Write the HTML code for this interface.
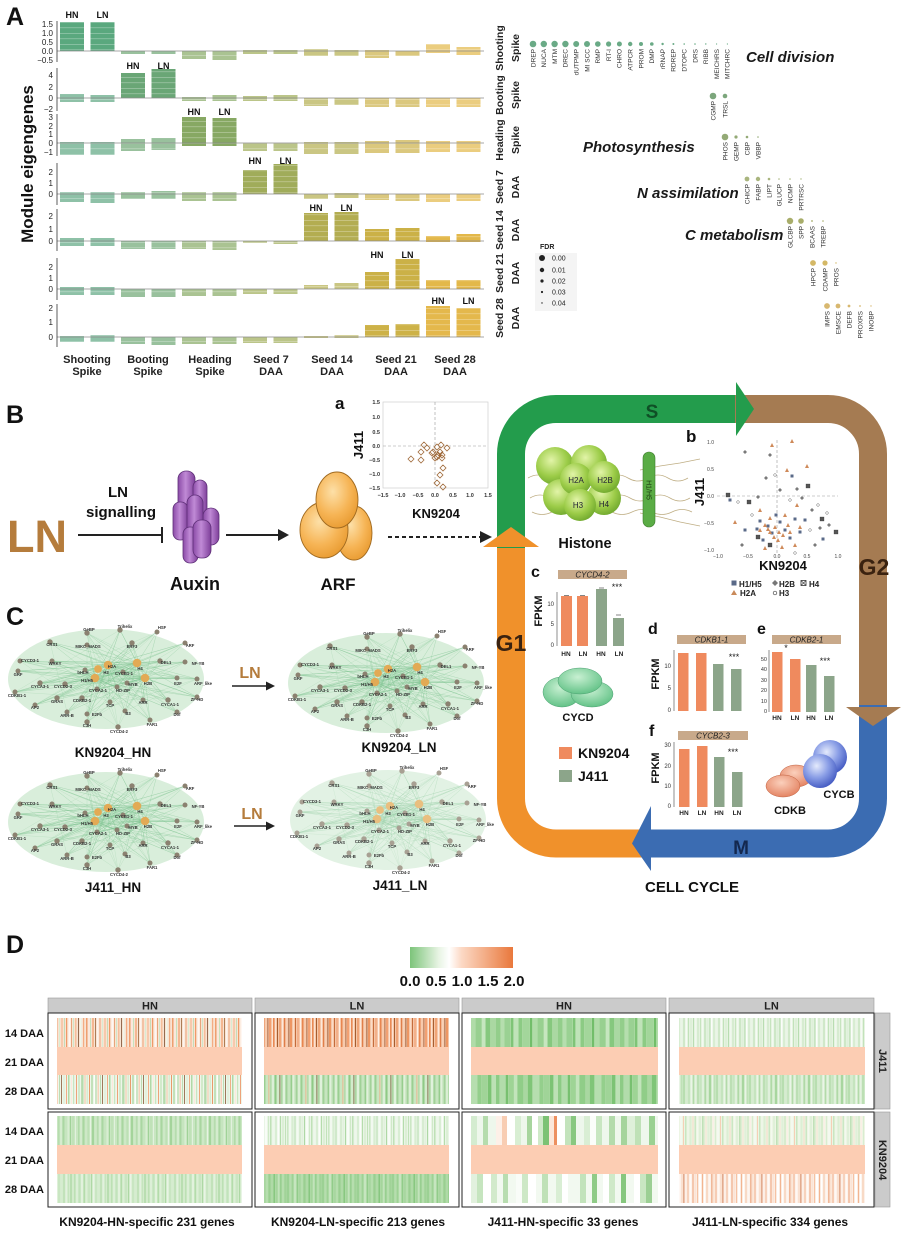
<!DOCTYPE html>
<html><head><meta charset="utf-8">
<style>
html,body{margin:0;padding:0;background:#fff;}
svg{display:block;}
text{font-family:"Liberation Sans",Arial,sans-serif;}
</style></head><body>
<svg width="901" height="1242" viewBox="0 0 901 1242" xmlns="http://www.w3.org/2000/svg">
<defs>
<pattern id="wl" width="10" height="5.5" patternUnits="userSpaceOnUse"><rect y="0" width="10" height="0.6" fill="#fff" opacity="0.45"/></pattern>
<linearGradient id="cyl" x1="0" x2="1" y1="0" y2="0"><stop offset="0" stop-color="#8a4aa6"/><stop offset="0.45" stop-color="#c08ad6"/><stop offset="1" stop-color="#7e3f9a"/></linearGradient>
<radialGradient id="arf" cx="0.4" cy="0.35" r="0.7"><stop offset="0" stop-color="#fde0a8"/><stop offset="0.6" stop-color="#f6b455"/><stop offset="1" stop-color="#e89a30"/></radialGradient>
<radialGradient id="his" cx="0.4" cy="0.35" r="0.7"><stop offset="0" stop-color="#e2f4a8"/><stop offset="0.6" stop-color="#9ccc48"/><stop offset="1" stop-color="#6da62c"/></radialGradient>
<radialGradient id="cycd" cx="0.45" cy="0.35" r="0.7"><stop offset="0" stop-color="#c8f0d2"/><stop offset="1" stop-color="#5cbf82"/></radialGradient>
<radialGradient id="cdkb" cx="0.45" cy="0.35" r="0.7"><stop offset="0" stop-color="#fbd0bc"/><stop offset="1" stop-color="#e27e5c"/></radialGradient>
<radialGradient id="cycb" cx="0.4" cy="0.35" r="0.7"><stop offset="0" stop-color="#e4eafc"/><stop offset="0.5" stop-color="#8a9ee6"/><stop offset="1" stop-color="#3f56c0"/></radialGradient>
<linearGradient id="leg" x1="0" x2="1" y1="0" y2="0"><stop offset="0" stop-color="#7cc47a"/><stop offset="0.28" stop-color="#e8f4e4"/><stop offset="0.38" stop-color="#ffffff"/><stop offset="0.5" stop-color="#fcd9c5"/><stop offset="1" stop-color="#e9783c"/></linearGradient>

<g id="net">
<ellipse cx="106" cy="679" rx="98" ry="50" fill="#d9eedb"/>
<g fill="none" stroke="#7cc290" stroke-width="0.3" stroke-opacity="0.45">
<path d="M108 665L120 630 108 665 157 632 108 665 87 633 108 665 50 642 108 665 87 645 108 665 132 643 108 665 185 643 108 665 20 661 108 665 52 661 108 665 160 661 108 665 185 662 108 665 85 670 108 665 123 672 108 665 18 671 108 665 127 683 108 665 177 678 108 665 197 679 108 665 40 683 108 665 65 684 108 665 15 692 108 665 97 689 108 665 117 687 108 665 82 698 108 665 143 700 108 665 168 700 108 665 197 697 108 665 35 705 108 665 57 698 108 665 110 702 108 665 125 711 108 665 177 712 108 665 67 712 108 665 87 714 108 665 87 722 108 665 150 720 108 665 118 727"/>
<path d="M137 663L120 630 137 663 157 632 137 663 87 633 137 663 50 642 137 663 87 645 137 663 132 643 137 663 185 643 137 663 20 661 137 663 52 661 137 663 160 661 137 663 185 662 137 663 85 670 137 663 123 672 137 663 18 671 137 663 127 683 137 663 177 678 137 663 197 679 137 663 40 683 137 663 65 684 137 663 15 692 137 663 97 689 137 663 117 687 137 663 82 698 137 663 143 700 137 663 168 700 137 663 197 697 137 663 35 705 137 663 57 698 137 663 110 702 137 663 125 711 137 663 177 712 137 663 67 712 137 663 87 714 137 663 87 722 137 663 150 720 137 663 118 727"/>
<path d="M95 678L120 630 95 678 157 632 95 678 87 633 95 678 50 642 95 678 87 645 95 678 132 643 95 678 185 643 95 678 20 661 95 678 52 661 95 678 160 661 95 678 185 662 95 678 85 670 95 678 123 672 95 678 18 671 95 678 127 683 95 678 177 678 95 678 197 679 95 678 40 683 95 678 65 684 95 678 15 692 95 678 97 689 95 678 117 687 95 678 82 698 95 678 143 700 95 678 168 700 95 678 197 697 95 678 35 705 95 678 57 698 95 678 110 702 95 678 125 711 95 678 177 712 95 678 67 712 95 678 87 714 95 678 87 722 95 678 150 720 95 678 118 727"/>
<path d="M145 678L120 630 145 678 157 632 145 678 87 633 145 678 50 642 145 678 87 645 145 678 132 643 145 678 185 643 145 678 20 661 145 678 52 661 145 678 160 661 145 678 185 662 145 678 85 670 145 678 123 672 145 678 18 671 145 678 127 683 145 678 177 678 145 678 197 679 145 678 40 683 145 678 65 684 145 678 15 692 145 678 97 689 145 678 117 687 145 678 82 698 145 678 143 700 145 678 168 700 145 678 197 697 145 678 35 705 145 678 57 698 145 678 110 702 145 678 125 711 145 678 177 712 145 678 67 712 145 678 87 714 145 678 87 722 145 678 150 720 145 678 118 727"/>
<path d="M120 630L15 692 185 643 67 712 50 642 197 697 18 671 177 678 87 633 118 727 20 661 168 700 87 645 87 722 185 662 40 683 157 632 35 705 123 672 177 712 52 661 97 689 132 643 87 714 197 679 125 711 160 661 57 698 127 683 150 720 85 670 110 702 65 684 143 700 15 692 M20 661L197 679M18 671L197 697M15 692L185 662M50 642L177 712M87 633L125 711M157 632L67 712M185 643L35 705M120 630L87 722M132 643L87 714M40 683L168 700M52 661L150 720M65 684L160 661"/>
</g>
<g fill="#8b8170">
<circle cx="120" cy="630" r="2.7"/><circle cx="157" cy="632" r="2.5"/><circle cx="87" cy="633" r="2.7"/><circle cx="50" cy="642" r="2.7"/><circle cx="87" cy="645" r="2.5"/><circle cx="132" cy="643" r="2.7"/><circle cx="185" cy="643" r="2.5"/><circle cx="20" cy="661" r="2.5"/><circle cx="52" cy="661" r="2.5"/><circle cx="160" cy="661" r="2.7"/><circle cx="185" cy="662" r="2.5"/><circle cx="85" cy="670" r="2.5"/><circle cx="123" cy="672" r="2.5"/><circle cx="18" cy="671" r="2.5"/><circle cx="127" cy="683" r="2.5"/><circle cx="177" cy="678" r="2.5"/><circle cx="197" cy="679" r="2.5"/><circle cx="40" cy="683" r="2.7"/><circle cx="65" cy="684" r="2.7"/><circle cx="15" cy="692" r="2.5"/><circle cx="97" cy="689" r="2.5"/><circle cx="117" cy="687" r="2.5"/><circle cx="82" cy="698" r="2.7"/><circle cx="143" cy="700" r="2.5"/><circle cx="168" cy="700" r="2.7"/><circle cx="197" cy="697" r="2.5"/><circle cx="35" cy="705" r="2.5"/><circle cx="57" cy="698" r="2.7"/><circle cx="110" cy="702" r="2.5"/><circle cx="125" cy="711" r="2.5"/><circle cx="177" cy="712" r="2.5"/><circle cx="67" cy="712" r="2.5"/><circle cx="87" cy="714" r="2.5"/><circle cx="87" cy="722" r="2.7"/><circle cx="150" cy="720" r="2.5"/><circle cx="118" cy="727" r="2.7"/>
</g>
<g fill="#e2aa55"><circle cx="108" cy="665" r="4.3"/><circle cx="137" cy="663" r="4.3"/><circle cx="98" cy="669" r="3.9"/><circle cx="95" cy="678" r="4.3"/><circle cx="145" cy="678" r="4.3"/></g>
</g>

<pattern id="p1a" width="43" height="1242" patternUnits="userSpaceOnUse"><rect width="43" height="1242" fill="#f8e3d3"/><g><rect x="0" width="1.5" height="1242" fill="#ee9f70"/><rect x="2.5" width="1" height="1242" fill="#fbeee5"/><rect x="4" width="1" height="1242" fill="#c6e2bd"/><rect x="6" width="2" height="1242" fill="#f4b791"/><rect x="9" width="0.8" height="1242" fill="#9a6438"/><rect x="11" width="1.5" height="1242" fill="#fdf4ee"/><rect x="13.5" width="1" height="1242" fill="#eea274"/><rect x="16" width="1" height="1242" fill="#d9ecd2"/><rect x="18" width="2" height="1242" fill="#f7c9ab"/><rect x="21" width="0.8" height="1242" fill="#b9dbb0"/><rect x="23" width="1.2" height="1242" fill="#f09a67"/><rect x="25.5" width="2" height="1242" fill="#fff7f2"/><rect x="28" width="1" height="1242" fill="#e7a57a"/><rect x="30" width="1" height="1242" fill="#cfe6c7"/><rect x="32" width="1.5" height="1242" fill="#f6be9a"/><rect x="35" width="0.8" height="1242" fill="#7c4f30"/><rect x="37" width="1.5" height="1242" fill="#eef6ea"/><rect x="40" width="1.2" height="1242" fill="#f3ad83"/></g></pattern>
<pattern id="p1c" width="41" height="1242" patternUnits="userSpaceOnUse"><rect width="41" height="1242" fill="#eef6ea"/><rect x="0" width="1.5" height="1242" fill="#b5dbac"/><rect x="2.5" width="1" height="1242" fill="#f5c4a5"/><rect x="4.5" width="1.5" height="1242" fill="#d7ecd0"/><rect x="7" width="1" height="1242" fill="#e99a6b"/><rect x="9" width="2" height="1242" fill="#c2e1ba"/><rect x="12" width="0.8" height="1242" fill="#fff"/><rect x="13.5" width="1" height="1242" fill="#a9d4a0"/><rect x="15.5" width="1.5" height="1242" fill="#f7d2bb"/><rect x="18" width="1" height="1242" fill="#bcdcb3"/><rect x="20" width="0.8" height="1242" fill="#8a5a36"/><rect x="22" width="2" height="1242" fill="#e3f1de"/><rect x="25" width="1" height="1242" fill="#f1ad85"/><rect x="27" width="1.5" height="1242" fill="#b0d9a7"/><rect x="30" width="1" height="1242" fill="#fde9dc"/><rect x="32" width="1.2" height="1242" fill="#c9e5c1"/><rect x="35" width="1" height="1242" fill="#eda37a"/><rect x="37" width="2" height="1242" fill="#d2eacb"/><rect x="40" width="0.6" height="1242" fill="#9ccf94"/></pattern>
<pattern id="p2a" width="39" height="1242" patternUnits="userSpaceOnUse"><rect width="39" height="1242" fill="#f5c7a9"/><rect x="0" width="1.5" height="1242" fill="#e98a55"/><rect x="2" width="1" height="1242" fill="#fbe2d2"/><rect x="4" width="1" height="1242" fill="#a55d30"/><rect x="6" width="2" height="1242" fill="#f0a477"/><rect x="9" width="1" height="1242" fill="#fde8dc"/><rect x="11" width="1.2" height="1242" fill="#e07e4a"/><rect x="13" width="1.5" height="1242" fill="#f8d1b8"/><rect x="15.5" width="0.8" height="1242" fill="#8a4a28"/><rect x="17" width="2" height="1242" fill="#ee9663"/><rect x="20" width="1" height="1242" fill="#fbdcc8"/><rect x="22" width="1" height="1242" fill="#c46c3c"/><rect x="24" width="2" height="1242" fill="#f3b08a"/><rect x="27" width="1" height="1242" fill="#fff0e6"/><rect x="29" width="1.5" height="1242" fill="#e8854f"/><rect x="31.5" width="1" height="1242" fill="#f9cdb1"/><rect x="33.5" width="0.8" height="1242" fill="#9a5530"/><rect x="35" width="2" height="1242" fill="#f2a072"/><rect x="38" width="1" height="1242" fill="#fce4d4"/></pattern>
<pattern id="p2c" width="37" height="1242" patternUnits="userSpaceOnUse"><rect width="37" height="1242" fill="#cde8c6"/><rect x="0" width="1.5" height="1242" fill="#a3d29a"/><rect x="2.5" width="1" height="1242" fill="#e6f3e2"/><rect x="4.5" width="2" height="1242" fill="#9bcf92"/><rect x="7.5" width="1" height="1242" fill="#c5e4bd"/><rect x="9.5" width="0.8" height="1242" fill="#f0a980"/><rect x="11" width="1.5" height="1242" fill="#b4dbab"/><rect x="13.5" width="1" height="1242" fill="#ecf6e9"/><rect x="15.5" width="2" height="1242" fill="#8fca86"/><rect x="18.5" width="1" height="1242" fill="#d9eed3"/><rect x="20.5" width="0.8" height="1242" fill="#7a5a3a"/><rect x="22" width="1.5" height="1242" fill="#aad6a1"/><rect x="24.5" width="1" height="1242" fill="#f4fbf2"/><rect x="26.5" width="2" height="1242" fill="#a0d197"/><rect x="29.5" width="1" height="1242" fill="#c0e2b8"/><rect x="31.5" width="1.5" height="1242" fill="#97cd8e"/><rect x="34" width="1" height="1242" fill="#e0f0db"/><rect x="36" width="0.8" height="1242" fill="#b9ddb1"/></pattern>
<pattern id="p3a" width="62" height="1242" patternUnits="userSpaceOnUse"><rect width="62" height="1242" fill="#a8d8a0"/><rect x="0" width="4" height="1242" fill="#93ce8b"/><rect x="5" width="3" height="1242" fill="#b5deae"/><rect x="9" width="5" height="1242" fill="#9ad193"/><rect x="15" width="2" height="1242" fill="#7fc477"/><rect x="18" width="4" height="1242" fill="#c0e3b9"/><rect x="23" width="3" height="1242" fill="#8ccb84"/><rect x="27" width="6" height="1242" fill="#a3d69b"/><rect x="34" width="2" height="1242" fill="#72be6a"/><rect x="37" width="4" height="1242" fill="#b0dca8"/><rect x="42" width="5" height="1242" fill="#98d090"/><rect x="48" width="3" height="1242" fill="#c6e6bf"/><rect x="52" width="4" height="1242" fill="#86c87e"/><rect x="57" width="5" height="1242" fill="#aad8a2"/></pattern>
<pattern id="p3c" width="62" height="1242" patternUnits="userSpaceOnUse"><rect width="62" height="1242" fill="#a5d69d"/><rect x="0" width="3" height="1242" fill="#8dcb85"/><rect x="4" width="5" height="1242" fill="#b2dcab"/><rect x="10" width="2" height="1242" fill="#78c070"/><rect x="13" width="4" height="1242" fill="#9ed495"/><rect x="18" width="3" height="1242" fill="#c2e4bb"/><rect x="22" width="5" height="1242" fill="#90cd88"/><rect x="28" width="3" height="1242" fill="#a9d7a1"/><rect x="32" width="4" height="1242" fill="#80c578"/><rect x="37" width="6" height="1242" fill="#b6deaf"/><rect x="44" width="3" height="1242" fill="#94cf8c"/><rect x="48" width="5" height="1242" fill="#a0d498"/><rect x="54" width="3" height="1242" fill="#7cc374"/><rect x="58" width="4" height="1242" fill="#bce1b5"/></pattern>
<pattern id="p4a" width="35" height="1242" patternUnits="userSpaceOnUse"><rect width="35" height="1242" fill="#e6f3e1"/><rect x="0" width="1" height="1242" fill="#c6e4be"/><rect x="2" width="1.5" height="1242" fill="#f3faf1"/><rect x="4.5" width="1" height="1242" fill="#b4dbab"/><rect x="6.5" width="2" height="1242" fill="#dff0da"/><rect x="9.5" width="0.8" height="1242" fill="#a8d6a0"/><rect x="11" width="1.5" height="1242" fill="#fbfdfa"/><rect x="13.5" width="1" height="1242" fill="#cbe7c4"/><rect x="15.5" width="2" height="1242" fill="#eaf5e7"/><rect x="18.5" width="1" height="1242" fill="#b9ddb1"/><rect x="20.5" width="1.5" height="1242" fill="#f6fbf5"/><rect x="23" width="1" height="1242" fill="#c2e2ba"/><rect x="25" width="2" height="1242" fill="#def0d9"/><rect x="28" width="0.8" height="1242" fill="#aed8a6"/><rect x="30" width="1.5" height="1242" fill="#f0f8ee"/><rect x="32.5" width="1" height="1242" fill="#c8e6c1"/></pattern>
<pattern id="p4c" width="33" height="1242" patternUnits="userSpaceOnUse"><rect width="33" height="1242" fill="#d2eacb"/><rect x="0" width="1" height="1242" fill="#b3daaa"/><rect x="2" width="1.5" height="1242" fill="#e4f2e0"/><rect x="4.5" width="1" height="1242" fill="#a5d49c"/><rect x="6.5" width="2" height="1242" fill="#c7e5c0"/><rect x="9.5" width="1" height="1242" fill="#eef7ec"/><rect x="11.5" width="1.5" height="1242" fill="#b0d9a7"/><rect x="14" width="1" height="1242" fill="#dcefd6"/><rect x="16" width="2" height="1242" fill="#a8d69f"/><rect x="19" width="1" height="1242" fill="#e8f4e5"/><rect x="21" width="1.5" height="1242" fill="#bfe1b7"/><rect x="23.5" width="1" height="1242" fill="#9fd196"/><rect x="25.5" width="2" height="1242" fill="#d6ecd0"/><rect x="28.5" width="1" height="1242" fill="#b8ddb0"/><rect x="30.5" width="1.5" height="1242" fill="#eaf5e7"/></pattern>
<pattern id="p1d" width="39" height="1242" patternUnits="userSpaceOnUse"><rect width="39" height="1242" fill="#c8e6c1"/><rect x="0" width="1.5" height="1242" fill="#b0daa8"/><rect x="2.5" width="1" height="1242" fill="#dcefd6"/><rect x="4.5" width="2" height="1242" fill="#a9d6a0"/><rect x="7.5" width="1" height="1242" fill="#d2eacb"/><rect x="9.5" width="1.5" height="1242" fill="#bde0b5"/><rect x="12" width="1" height="1242" fill="#e6f3e2"/><rect x="14" width="2" height="1242" fill="#a4d49b"/><rect x="17" width="1" height="1242" fill="#cde8c6"/><rect x="19" width="1.5" height="1242" fill="#b6dcae"/><rect x="21.5" width="1" height="1242" fill="#e0f1dc"/><rect x="23.5" width="2" height="1242" fill="#aad7a2"/><rect x="26.5" width="1" height="1242" fill="#c4e4bd"/><rect x="28.5" width="1.5" height="1242" fill="#d8edd2"/><rect x="31" width="1" height="1242" fill="#a0d298"/><rect x="33" width="2" height="1242" fill="#c0e2b8"/><rect x="36" width="1" height="1242" fill="#e2f1de"/></pattern>
<pattern id="p1f" width="37" height="1242" patternUnits="userSpaceOnUse"><rect width="37" height="1242" fill="#d3ebcc"/><rect x="0" width="1.5" height="1242" fill="#bce0b4"/><rect x="2.5" width="1" height="1242" fill="#e6f3e2"/><rect x="4.5" width="2" height="1242" fill="#c2e3bb"/><rect x="7.5" width="1" height="1242" fill="#f0f8ee"/><rect x="9.5" width="1.5" height="1242" fill="#b4dcab"/><rect x="12" width="1" height="1242" fill="#dcefd6"/><rect x="14" width="2" height="1242" fill="#c9e6c2"/><rect x="17" width="1" height="1242" fill="#aed8a5"/><rect x="19" width="1.5" height="1242" fill="#e8f4e5"/><rect x="21.5" width="1" height="1242" fill="#bfe1b7"/><rect x="23.5" width="2" height="1242" fill="#d6ecd0"/><rect x="26.5" width="1" height="1242" fill="#b0d9a7"/><rect x="28.5" width="1.5" height="1242" fill="#e2f1de"/><rect x="31" width="1" height="1242" fill="#c5e4be"/><rect x="33" width="2" height="1242" fill="#b9deb1"/></pattern>
<pattern id="p2d" width="41" height="1242" patternUnits="userSpaceOnUse"><rect width="41" height="1242" fill="#e9f5e6"/><rect x="0" width="1.5" height="1242" fill="#cbe7c4"/><rect x="2.5" width="1" height="1242" fill="#fafdf9"/><rect x="4.5" width="2" height="1242" fill="#d8edd2"/><rect x="7.5" width="1" height="1242" fill="#b8ddb0"/><rect x="9.5" width="2" height="1242" fill="#f4faf2"/><rect x="12.5" width="1" height="1242" fill="#c6e4be"/><rect x="14.5" width="1.5" height="1242" fill="#e2f1de"/><rect x="17" width="1" height="1242" fill="#aed8a5"/><rect x="19" width="2" height="1242" fill="#f8fcf7"/><rect x="22" width="1" height="1242" fill="#d0e9c9"/><rect x="24" width="1.5" height="1242" fill="#bfe1b7"/><rect x="26.5" width="2" height="1242" fill="#eef7ec"/><rect x="29.5" width="1" height="1242" fill="#c9e6c2"/><rect x="31.5" width="1.5" height="1242" fill="#fbfdfa"/><rect x="34" width="1" height="1242" fill="#b5dcac"/><rect x="36" width="2" height="1242" fill="#dcefd6"/><rect x="39" width="1" height="1242" fill="#c2e2ba"/></pattern>
<pattern id="p2f" width="35" height="1242" patternUnits="userSpaceOnUse"><rect width="35" height="1242" fill="#acd9a4"/><rect x="0" width="1.5" height="1242" fill="#98cf90"/><rect x="2.5" width="1" height="1242" fill="#c0e2b8"/><rect x="4.5" width="2" height="1242" fill="#a1d398"/><rect x="7.5" width="1" height="1242" fill="#8bc983"/><rect x="9.5" width="1.5" height="1242" fill="#b6ddae"/><rect x="12" width="1" height="1242" fill="#9ed295"/><rect x="14" width="2" height="1242" fill="#c6e5bf"/><rect x="17" width="1" height="1242" fill="#92cc8a"/><rect x="19" width="1.5" height="1242" fill="#a8d6a0"/><rect x="21.5" width="1" height="1242" fill="#bfe2b7"/><rect x="23.5" width="2" height="1242" fill="#9acf91"/><rect x="26.5" width="1" height="1242" fill="#b2dbaa"/><rect x="28.5" width="1.5" height="1242" fill="#88c780"/><rect x="31" width="1" height="1242" fill="#a5d59c"/><rect x="33" width="1.5" height="1242" fill="#c2e3bb"/></pattern>
<pattern id="p4d" width="37" height="1242" patternUnits="userSpaceOnUse"><rect width="37" height="1242" fill="#edf5e4"/><rect x="0" width="1.5" height="1242" fill="#d0e8c6"/><rect x="2.5" width="1" height="1242" fill="#f9e3d3"/><rect x="4.5" width="2" height="1242" fill="#e0f0d9"/><rect x="7.5" width="1" height="1242" fill="#c2e2b9"/><rect x="9.5" width="1.5" height="1242" fill="#fbefe6"/><rect x="12" width="1" height="1242" fill="#d9ecd0"/><rect x="14" width="2" height="1242" fill="#f4f9f0"/><rect x="17" width="1" height="1242" fill="#f6cfb6"/><rect x="19" width="1.5" height="1242" fill="#c9e6c1"/><rect x="21.5" width="1" height="1242" fill="#eef7ea"/><rect x="23.5" width="2" height="1242" fill="#dcefd4"/><rect x="26.5" width="1" height="1242" fill="#f8dcc9"/><rect x="28.5" width="1.5" height="1242" fill="#cbe7c3"/><rect x="31" width="1" height="1242" fill="#f3f9ef"/><rect x="33" width="2" height="1242" fill="#e0f0d9"/><rect x="36" width="1" height="1242" fill="#c0e1b8"/></pattern>
<pattern id="p4f" width="39" height="1242" patternUnits="userSpaceOnUse"><rect width="39" height="1242" fill="#fbece2"/><rect x="0" width="1" height="1242" fill="#f2b591"/><rect x="2" width="1.5" height="1242" fill="#fff"/><rect x="4.5" width="1" height="1242" fill="#f6c8ab"/><rect x="6.5" width="2" height="1242" fill="#fdf6f1"/><rect x="9.5" width="0.8" height="1242" fill="#e5844f"/><rect x="11" width="1.5" height="1242" fill="#fbe3d3"/><rect x="13.5" width="1" height="1242" fill="#f0ad86"/><rect x="15.5" width="2" height="1242" fill="#fff8f4"/><rect x="18.5" width="1" height="1242" fill="#f8d6c0"/><rect x="20.5" width="0.8" height="1242" fill="#c86a3a"/><rect x="22" width="1.5" height="1242" fill="#fdf0e8"/><rect x="24.5" width="1" height="1242" fill="#f3b995"/><rect x="26.5" width="2" height="1242" fill="#fffaf7"/><rect x="29.5" width="1" height="1242" fill="#eea27a"/><rect x="31.5" width="1.5" height="1242" fill="#fbe4d6"/><rect x="34" width="1" height="1242" fill="#f5c2a3"/><rect x="36" width="2" height="1242" fill="#fff"/></pattern>
</defs>

<rect width="901" height="1242" fill="#ffffff"/>

<!-- ================= PANEL A ================= -->
<text x="6" y="25" font-size="25" font-weight="bold" fill="#111">A</text>
<text transform="translate(33,164) rotate(-90)" text-anchor="middle" font-size="17" font-weight="bold" fill="#111">Module eigengenes</text>

<g>
<!-- row1 -->
<rect x="60" y="22" width="24" height="29" fill="#5aa87e"/><rect x="90.5" y="22" width="24" height="29" fill="#5aa87e"/>
<g opacity="0.7">
<rect x="121" y="51" width="24" height="3" fill="#6fa874"/><rect x="151.5" y="51" width="24" height="3" fill="#6fa874"/>
<rect x="182" y="51" width="24" height="8" fill="#87aa64"/><rect x="212.5" y="51" width="24" height="9" fill="#87aa64"/>
<rect x="243" y="50" width="24" height="4" fill="#9fad58"/><rect x="273.5" y="50" width="24" height="4" fill="#9fad58"/>
<rect x="304" y="49" width="24" height="7" fill="#b4ae50"/><rect x="334.5" y="50" width="24" height="6" fill="#b4ae50"/>
<rect x="365" y="50" width="24" height="8" fill="#cdb248"/><rect x="395.5" y="51" width="24" height="5" fill="#cdb248"/>
<rect x="426" y="44" width="24" height="9" fill="#e3b84a"/><rect x="456.5" y="47" width="24" height="8" fill="#e3b84a"/>
</g>
<!-- row2 -->
<rect x="121" y="73" width="24" height="25" fill="#6aa676"/><rect x="151.5" y="69" width="24" height="29" fill="#6aa676"/>
<g opacity="0.7">
<rect x="60" y="94" width="24" height="8" fill="#5fa883"/><rect x="90.5" y="95" width="24" height="7" fill="#5fa883"/>
<rect x="182" y="97" width="24" height="4" fill="#87aa64"/><rect x="212.5" y="95" width="24" height="6" fill="#87aa64"/>
<rect x="243" y="96" width="24" height="5" fill="#9fad58"/><rect x="273.5" y="95" width="24" height="6" fill="#9fad58"/>
<rect x="304" y="98" width="24" height="8" fill="#b4ae50"/><rect x="334.5" y="98" width="24" height="7" fill="#b4ae50"/>
<rect x="365" y="98" width="24" height="9" fill="#cdb248"/><rect x="395.5" y="98" width="24" height="9" fill="#cdb248"/>
<rect x="426" y="98" width="24" height="9" fill="#e3b84a"/><rect x="456.5" y="98" width="24" height="9" fill="#e3b84a"/>
</g>
<!-- row3 -->
<rect x="182" y="117" width="24" height="29" fill="#87a863"/><rect x="212.5" y="118" width="24" height="28" fill="#87a863"/>
<g opacity="0.7">
<rect x="60" y="142" width="24" height="13" fill="#5fa883"/><rect x="90.5" y="142" width="24" height="13" fill="#5fa883"/>
<rect x="121" y="139" width="24" height="12" fill="#6fa874"/><rect x="151.5" y="138" width="24" height="12" fill="#6fa874"/>
<rect x="243" y="143" width="24" height="8" fill="#9fad58"/><rect x="273.5" y="143" width="24" height="8" fill="#9fad58"/>
<rect x="304" y="142" width="24" height="12" fill="#b4ae50"/><rect x="334.5" y="142" width="24" height="12" fill="#b4ae50"/>
<rect x="365" y="141" width="24" height="12" fill="#cdb248"/><rect x="395.5" y="140" width="24" height="13" fill="#cdb248"/>
<rect x="426" y="141" width="24" height="11" fill="#e3b84a"/><rect x="456.5" y="141" width="24" height="11" fill="#e3b84a"/>
</g>
<!-- row4 -->
<rect x="243" y="170" width="24" height="24" fill="#a0ac5a"/><rect x="273.5" y="164" width="24" height="30" fill="#a0ac5a"/>
<g opacity="0.7">
<rect x="60" y="192" width="24" height="10" fill="#5fa883"/><rect x="90.5" y="192" width="24" height="11" fill="#5fa883"/>
<rect x="121" y="192" width="24" height="7" fill="#6fa874"/><rect x="151.5" y="191" width="24" height="8" fill="#6fa874"/>
<rect x="182" y="192" width="24" height="9" fill="#87aa64"/><rect x="212.5" y="192" width="24" height="9" fill="#87aa64"/>
<rect x="304" y="194" width="24" height="5" fill="#b4ae50"/><rect x="334.5" y="193" width="24" height="5" fill="#b4ae50"/>
<rect x="365" y="194" width="24" height="6" fill="#cdb248"/><rect x="395.5" y="194" width="24" height="7" fill="#cdb248"/>
<rect x="426" y="194" width="24" height="8" fill="#e3b84a"/><rect x="456.5" y="194" width="24" height="7" fill="#e3b84a"/>
</g>
<!-- row5 -->
<rect x="304" y="213" width="24" height="28" fill="#b3ad51"/><rect x="334.5" y="212" width="24" height="29" fill="#b3ad51"/>
<rect x="365" y="229" width="24" height="12" fill="#cbb147"/><rect x="395.5" y="228" width="24" height="13" fill="#cbb147"/>
<rect x="426" y="236" width="24" height="6" fill="#e3b84a"/><rect x="456.5" y="234" width="24" height="8" fill="#e3b84a"/>
<g opacity="0.7">
<rect x="60" y="238" width="24" height="8" fill="#5fa883"/><rect x="90.5" y="238" width="24" height="8" fill="#5fa883"/>
<rect x="121" y="241" width="24" height="8" fill="#6fa874"/><rect x="151.5" y="241" width="24" height="8" fill="#6fa874"/>
<rect x="182" y="241" width="24" height="8" fill="#87aa64"/><rect x="212.5" y="241" width="24" height="9" fill="#87aa64"/>
<rect x="243" y="241" width="24" height="2" fill="#9fad58"/><rect x="273.5" y="241" width="24" height="3" fill="#9fad58"/>
</g>
<!-- row6 -->
<rect x="365" y="272" width="24" height="17" fill="#cbb147"/><rect x="395.5" y="259" width="24" height="30" fill="#cbb147"/>
<rect x="426" y="280" width="24" height="9" fill="#e3b84a"/><rect x="456.5" y="280" width="24" height="9" fill="#e3b84a"/>
<g opacity="0.7">
<rect x="60" y="287" width="24" height="8" fill="#5fa883"/><rect x="90.5" y="287" width="24" height="8" fill="#5fa883"/>
<rect x="121" y="289" width="24" height="8" fill="#6fa874"/><rect x="151.5" y="289" width="24" height="8" fill="#6fa874"/>
<rect x="182" y="289" width="24" height="7" fill="#87aa64"/><rect x="212.5" y="289" width="24" height="7" fill="#87aa64"/>
<rect x="243" y="289" width="24" height="5" fill="#9fad58"/><rect x="273.5" y="289" width="24" height="5" fill="#9fad58"/>
<rect x="304" y="285" width="24" height="4" fill="#b4ae50"/><rect x="334.5" y="283" width="24" height="6" fill="#b4ae50"/>
</g>
<!-- row7 -->
<rect x="426" y="306" width="24" height="31" fill="#e4b84c"/><rect x="456.5" y="308" width="24" height="29" fill="#e4b84c"/>
<rect x="365" y="325" width="24" height="12" fill="#cdb248"/><rect x="395.5" y="324" width="24" height="13" fill="#cdb248"/>
<g opacity="0.7">
<rect x="60" y="336" width="24" height="6" fill="#5fa883"/><rect x="90.5" y="335" width="24" height="7" fill="#5fa883"/>
<rect x="121" y="337" width="24" height="7" fill="#6fa874"/><rect x="151.5" y="337" width="24" height="8" fill="#6fa874"/>
<rect x="182" y="337" width="24" height="7" fill="#87aa64"/><rect x="212.5" y="337" width="24" height="7" fill="#87aa64"/>
<rect x="243" y="337" width="24" height="6" fill="#9fad58"/><rect x="273.5" y="337" width="24" height="6" fill="#9fad58"/>
<rect x="304" y="336" width="24" height="2" fill="#b4ae50"/><rect x="334.5" y="335" width="24" height="3" fill="#b4ae50"/>
</g>
</g>
<rect x="59" y="15" width="426" height="335" fill="url(#wl)"/>

<g stroke="#8a8a8a" stroke-width="0.8">
<line x1="57" y1="51" x2="484" y2="51"/><line x1="57" y1="98" x2="484" y2="98"/><line x1="57" y1="143" x2="484" y2="143"/><line x1="57" y1="194" x2="484" y2="194"/><line x1="57" y1="241" x2="484" y2="241"/><line x1="57" y1="289" x2="484" y2="289"/><line x1="57" y1="337" x2="484" y2="337"/>
</g>
<g stroke="#333" stroke-width="0.8">
<line x1="57" y1="21" x2="57" y2="62"/><line x1="57" y1="68" x2="57" y2="111"/><line x1="57" y1="114" x2="57" y2="156"/><line x1="57" y1="163" x2="57" y2="205"/><line x1="57" y1="209" x2="57" y2="251"/><line x1="57" y1="258" x2="57" y2="300"/><line x1="57" y1="304" x2="57" y2="347"/>
</g>
<g font-size="8" fill="#222" text-anchor="end">
<text x="53" y="27">1.5</text><text x="53" y="36">1.0</text><text x="53" y="45">0.5</text><text x="53" y="54">0.0</text><text x="53" y="63">−0.5</text>
<text x="53" y="78">4</text><text x="53" y="90">2</text><text x="53" y="101">0</text><text x="53" y="112">−2</text>
<text x="53" y="120">3</text><text x="53" y="129">2</text><text x="53" y="137">1</text><text x="53" y="146">0</text><text x="53" y="155">−1</text>
<text x="53" y="175">2</text><text x="53" y="186">1</text><text x="53" y="197">0</text>
<text x="53" y="219">2</text><text x="53" y="232">1</text><text x="53" y="244">0</text>
<text x="53" y="270">2</text><text x="53" y="281">1</text><text x="53" y="292">0</text>
<text x="53" y="311">2</text><text x="53" y="325">1</text><text x="53" y="340">0</text>
</g>
<g font-size="9" font-weight="bold" fill="#111" text-anchor="middle">
<text x="72" y="18">HN</text><text x="102.5" y="18">LN</text>
<text x="133" y="69">HN</text><text x="163.5" y="69">LN</text>
<text x="194" y="115">HN</text><text x="224.5" y="115">LN</text>
<text x="255" y="164">HN</text><text x="285.5" y="164">LN</text>
<text x="316" y="211">HN</text><text x="346.5" y="211">LN</text>
<text x="377" y="258">HN</text><text x="407.5" y="258">LN</text>
<text x="438" y="304">HN</text><text x="468.5" y="304">LN</text>
</g>
<g font-size="11" font-weight="bold" fill="#222" text-anchor="middle">
<text x="87" y="363">Shooting</text><text x="87" y="375">Spike</text>
<text x="148" y="363">Booting</text><text x="148" y="375">Spike</text>
<text x="210" y="363">Heading</text><text x="210" y="375">Spike</text>
<text x="271" y="363">Seed 7</text><text x="271" y="375">DAA</text>
<text x="332" y="363">Seed 14</text><text x="332" y="375">DAA</text>
<text x="396" y="363">Seed 21</text><text x="396" y="375">DAA</text>
<text x="455" y="363">Seed 28</text><text x="455" y="375">DAA</text>
</g>
<g font-size="10.5" font-weight="bold" fill="#222" text-anchor="middle">
<text transform="translate(503,48) rotate(-90)">Shooting</text><text transform="translate(519,48) rotate(-90)">Spike</text>
<text transform="translate(503,95) rotate(-90)">Booting</text><text transform="translate(519,95) rotate(-90)">Spike</text>
<text transform="translate(503,140) rotate(-90)">Heading</text><text transform="translate(519,140) rotate(-90)">Spike</text>
<text transform="translate(503,187) rotate(-90)">Seed 7</text><text transform="translate(519,187) rotate(-90)">DAA</text>
<text transform="translate(503,230) rotate(-90)">Seed 14</text><text transform="translate(519,230) rotate(-90)">DAA</text>
<text transform="translate(503,273) rotate(-90)">Seed 21</text><text transform="translate(519,273) rotate(-90)">DAA</text>
<text transform="translate(503,318) rotate(-90)">Seed 28</text><text transform="translate(519,318) rotate(-90)">DAA</text>
</g>

<!-- dot plot -->
<g fill="#6aaa86">
<circle cx="533" cy="44" r="3.3"/><circle cx="543.8" cy="44" r="3.2"/><circle cx="554.6" cy="44" r="3.2"/><circle cx="565.4" cy="44" r="3.2"/><circle cx="576.2" cy="44" r="3"/><circle cx="587" cy="44" r="3"/><circle cx="597.8" cy="44" r="2.8"/><circle cx="608.6" cy="44" r="2.6"/><circle cx="619.4" cy="44" r="2.5"/><circle cx="630.2" cy="44" r="2.2"/><circle cx="641" cy="44" r="2"/><circle cx="651.8" cy="44" r="1.8"/><circle cx="662.6" cy="44" r="1.2"/><circle cx="673.4" cy="44" r="1"/><circle cx="684.2" cy="44" r="0.8"/><circle cx="695" cy="44" r="0.8"/><circle cx="705.8" cy="44" r="0.7"/><circle cx="716.6" cy="44" r="0.6"/><circle cx="727.4" cy="44" r="0.6"/>
</g>
<g fill="#7ca67c"><circle cx="713" cy="96" r="3.3"/><circle cx="725" cy="96" r="2.3"/></g>
<g fill="#94aa76"><circle cx="725" cy="137" r="3.3"/><circle cx="736" cy="137" r="1.6"/><circle cx="747" cy="137" r="1.3"/><circle cx="758" cy="137" r="0.8"/></g>
<g fill="#a9b57e"><circle cx="747" cy="179" r="2.4"/><circle cx="758" cy="179" r="2.2"/><circle cx="769" cy="179" r="1.3"/><circle cx="779" cy="179" r="0.8"/><circle cx="790" cy="179" r="0.8"/><circle cx="801" cy="179" r="0.7"/></g>
<g fill="#a8ad6a"><circle cx="790" cy="221" r="3.2"/><circle cx="801" cy="221" r="2.8"/><circle cx="812" cy="221" r="0.9"/><circle cx="823" cy="221" r="0.8"/></g>
<g fill="#d4b866"><circle cx="813" cy="263" r="2.9"/><circle cx="825" cy="263" r="2.6"/><circle cx="836" cy="263" r="0.7"/></g>
<g fill="#d8b870"><circle cx="827" cy="306" r="2.9"/><circle cx="838" cy="306" r="2.4"/><circle cx="849" cy="306" r="1.4"/><circle cx="860" cy="306" r="0.9"/><circle cx="871" cy="306" r="0.7"/></g>
<g font-size="6.5" fill="#333" text-anchor="end">
<text transform="translate(535.3,49) rotate(-90)">DREP</text><text transform="translate(546.1,49) rotate(-90)">NUCA</text><text transform="translate(556.9,49) rotate(-90)">MTM</text><text transform="translate(567.7,49) rotate(-90)">DREC</text><text transform="translate(578.5,49) rotate(-90)">dUTPMP</text><text transform="translate(589.3,49) rotate(-90)">MI SCC</text><text transform="translate(600.1,49) rotate(-90)">RMP</text><text transform="translate(610.9,49) rotate(-90)">RT-I</text><text transform="translate(621.7,49) rotate(-90)">CHRO</text><text transform="translate(632.5,49) rotate(-90)">ATPCR</text><text transform="translate(643.3,49) rotate(-90)">PROM</text><text transform="translate(654.1,49) rotate(-90)">DMP</text><text transform="translate(664.9,49) rotate(-90)">rRNAP</text><text transform="translate(675.7,49) rotate(-90)">RDREP</text><text transform="translate(686.5,49) rotate(-90)">DTOPC</text><text transform="translate(697.3,49) rotate(-90)">DRS</text><text transform="translate(708.1,49) rotate(-90)">RIBB</text><text transform="translate(718.9,49) rotate(-90)">MEICHRS</text><text transform="translate(729.7,49) rotate(-90)">MITCHRC</text>
<text transform="translate(715.3,101) rotate(-90)">CGMP</text><text transform="translate(727.3,101) rotate(-90)">TRSL</text>
<text transform="translate(727.3,142) rotate(-90)">PHOS</text><text transform="translate(738.3,142) rotate(-90)">GEMP</text><text transform="translate(749.3,142) rotate(-90)">CBP</text><text transform="translate(760.3,142) rotate(-90)">VBBP</text>
<text transform="translate(749.3,184) rotate(-90)">CHICP</text><text transform="translate(760.3,184) rotate(-90)">FABP</text><text transform="translate(771.3,184) rotate(-90)">LIPT</text><text transform="translate(781.3,184) rotate(-90)">GLUCP</text><text transform="translate(792.3,184) rotate(-90)">NCMP</text><text transform="translate(803.3,184) rotate(-90)">PRTRSC</text>
<text transform="translate(792.3,226) rotate(-90)">GLCBP</text><text transform="translate(803.3,226) rotate(-90)">SPP</text><text transform="translate(814.3,226) rotate(-90)">BCAAS</text><text transform="translate(825.3,226) rotate(-90)">TREBP</text>
<text transform="translate(815.3,268) rotate(-90)">HPCP</text><text transform="translate(827.3,268) rotate(-90)">CDAMP</text><text transform="translate(838.3,268) rotate(-90)">PROS</text>
<text transform="translate(829.3,311) rotate(-90)">IMPS</text><text transform="translate(840.3,311) rotate(-90)">EMSCE</text><text transform="translate(851.3,311) rotate(-90)">DEFB</text><text transform="translate(862.3,311) rotate(-90)">PROXRS</text><text transform="translate(873.3,311) rotate(-90)">INOBP</text>
</g>
<g font-size="15" font-weight="bold" font-style="italic" fill="#1a1a1a">
<text x="746" y="62">Cell division</text>
<text x="583" y="152">Photosynthesis</text>
<text x="637" y="198">N assimilation</text>
<text x="685" y="240">C metabolism</text>
</g>
<rect x="535" y="253" width="42" height="58" fill="#f4f4f4"/>
<text x="540" y="249" font-size="7" font-weight="bold" fill="#222">FDR</text>
<g fill="#222"><circle cx="542" cy="258" r="3"/><circle cx="542" cy="270" r="2.2"/><circle cx="542" cy="281" r="1.6"/><circle cx="542" cy="292" r="1.1"/><circle cx="542" cy="303" r="0.7"/></g>
<g font-size="7" fill="#222"><text x="552" y="260.5">0.00</text><text x="552" y="272.5">0.01</text><text x="552" y="283.5">0.02</text><text x="552" y="294.5">0.03</text><text x="552" y="305.5">0.04</text></g>

<!-- ================= PANEL B ================= -->
<text x="6" y="423" font-size="25" font-weight="bold" fill="#111">B</text>
<text x="7" y="552" font-size="45" font-weight="bold" fill="#b57c3c">LN</text>
<text x="118" y="497" font-size="15" font-weight="bold" fill="#111" text-anchor="middle">LN</text>
<text x="121" y="517" font-size="15" font-weight="bold" fill="#111" text-anchor="middle">signalling</text>
<line x1="78" y1="535" x2="162" y2="535" stroke="#222" stroke-width="2"/>
<line x1="162" y1="527" x2="162" y2="543" stroke="#222" stroke-width="2"/>
<g stroke="#5e2f78" stroke-width="0.8" fill="url(#cyl)">
<rect x="178" y="471" width="17" height="42" rx="8"/>
<rect x="193" y="480" width="14" height="43" rx="7"/>
<rect x="173" y="502" width="15" height="38" rx="7"/>
<rect x="203" y="508" width="16" height="37" rx="8"/>
<rect x="187" y="495" width="16" height="42" rx="8"/>
<rect x="183" y="527" width="15" height="36" rx="7"/>
<rect x="193" y="520" width="18" height="38" rx="8"/>
</g>
<text x="195" y="590" font-size="18" font-weight="bold" fill="#111" text-anchor="middle">Auxin</text>
<line x1="226" y1="535" x2="280" y2="535" stroke="#222" stroke-width="2"/>
<polygon points="278,529 289,535 278,541" fill="#222"/>
<g stroke="#a06a20" stroke-width="0.9" fill="url(#arf)">
<ellipse cx="354" cy="533" rx="18" ry="27"/>
<ellipse cx="324" cy="530" rx="24" ry="28"/>
<ellipse cx="337" cy="500" rx="21" ry="28"/>
</g>
<text x="338" y="590" font-size="17" font-weight="bold" fill="#111" text-anchor="middle">ARF</text>
<line x1="388" y1="537" x2="482" y2="537" stroke="#222" stroke-width="2" stroke-dasharray="4,3"/>
<polygon points="480,531 492,537 480,543" fill="#222"/>
<text x="335" y="409" font-size="17" font-weight="bold" fill="#111">a</text>
<rect x="383" y="402" width="105" height="86" fill="none" stroke="#cfcfcf" stroke-width="0.7"/>
<line x1="435" y1="402" x2="435" y2="488" stroke="#999" stroke-width="0.6" stroke-dasharray="3,2"/>
<line x1="383" y1="446" x2="488" y2="446" stroke="#999" stroke-width="0.6" stroke-dasharray="3,2"/>
<g font-size="5.5" font-weight="bold" fill="#333" text-anchor="end">
<text x="380" y="404">1.5</text><text x="380" y="419">1.0</text><text x="380" y="434">0.5</text><text x="380" y="448">0.0</text><text x="380" y="462">−0.5</text><text x="380" y="476">−1.0</text><text x="380" y="490">−1.5</text>
</g>
<g font-size="5.5" font-weight="bold" fill="#333" text-anchor="middle">
<text x="383" y="497">−1.5</text><text x="400" y="497">−1.0</text><text x="418" y="497">−0.5</text><text x="435" y="497">0.0</text><text x="453" y="497">0.5</text><text x="470" y="497">1.0</text><text x="488" y="497">1.5</text>
</g>
<g fill="none" stroke="#a06a3a" stroke-width="0.8">
<path d="M411 456l3 3-3 3-3-3z M421 457l3 3-3 3-3-3z M421 449l3 3-3 3-3-3z M424 442l3 3-3 3-3-3z M427 445l3 3-3 3-3-3z M433 449l3 3-3 3-3-3z M437 444l3 3-3 3-3-3z M441 442l3 3-3 3-3-3z M447 445l3 3-3 3-3-3z M440 449l3 3-3 3-3-3z M438 452l3 3-3 3-3-3z M442 455l3 3-3 3-3-3z M435 455l3 3-3 3-3-3z M443 465l3 3-3 3-3-3z M440 472l3 3-3 3-3-3z M437 480l3 3-3 3-3-3z M443 484l3 3-3 3-3-3z M432 450l3 3-3 3-3-3z M437 454l3 3-3 3-3-3z M442 452l3 3-3 3-3-3z"/>
</g>
<text transform="translate(363,445) rotate(-90)" font-size="13" font-weight="bold" fill="#111" text-anchor="middle">J411</text>
<text x="436" y="518" font-size="13" font-weight="bold" fill="#111" text-anchor="middle">KN9204</text>

<!-- cell cycle -->
<g fill="none" stroke-width="28">
<path d="M655 843.5L556 843.5A45 45 0 0 1 511 798.5L511 545" stroke="#f0912b"/>
<path d="M511 548L511 454A45 45 0 0 1 556 409L740 409" stroke="#239c4c"/>
<path d="M735 409L828 409A45 45 0 0 1 873 454L873 710" stroke="#a57b52"/>
<path d="M873 705L873 798.5A45 45 0 0 1 828 843.5L648 843.5" stroke="#3b6cb2"/>
</g>
<polygon points="483,547 539,547 511,527" fill="#f0912b"/>
<polygon points="736,382 736,436 754,409" fill="#239c4c"/>
<polygon points="846,707 901,707 873,726" fill="#a57b52"/>
<polygon points="651,806 651,871 632,843.5" fill="#3b6cb2"/>
<text x="652" y="418" font-size="19" font-weight="bold" fill="#0f4f26" text-anchor="middle">S</text>
<text x="874" y="575" font-size="23" font-weight="bold" fill="#3a2210" text-anchor="middle">G2</text>
<text x="511" y="651" font-size="23" font-weight="bold" fill="#3a2210" text-anchor="middle">G1</text>
<text x="741" y="854" font-size="19" font-weight="bold" fill="#13284f" text-anchor="middle">M</text>
<text x="692" y="892" font-size="15" font-weight="bold" fill="#111" text-anchor="middle">CELL CYCLE</text>

<!-- histone -->
<g fill="none" stroke="#bfae84" stroke-width="0.8">
<path d="M528 478q10-6 20 0t20 0t20 0t20 0t20 0t20 0t20 0t20 0"/>
<path d="M530 498q10-6 20 0t20 0t20 0t20 0t20 0t20 0t20 0t20 0"/>
<path d="M532 512q10 5 20 0t20 0t20 0t20 0t20 0t20 0t20 0t20 0"/>
<path d="M640 470l20-4 20-3 20-4M640 513l20 4 20 5 20 4"/>
</g>
<g fill="url(#his)">
<circle cx="555" cy="466" r="19"/><circle cx="589" cy="463" r="18"/>
<circle cx="561" cy="497" r="18"/><circle cx="604" cy="498" r="17"/>
<circle cx="576" cy="479" r="16"/><circle cx="604" cy="477" r="16"/>
<circle cx="580" cy="505" r="16"/>
</g>
<g font-size="8" fill="#223" text-anchor="middle">
<text x="576" y="483">H2A</text><text x="605" y="483">H2B</text><text x="578" y="508">H3</text><text x="604" y="507">H4</text>
</g>
<rect x="643" y="452" width="12" height="75" rx="6" fill="#5aac45" stroke="#3d7d2c" stroke-width="0.6"/>
<text transform="translate(646.5,490) rotate(90)" font-size="7" fill="#1a3a10" text-anchor="middle">H1/H5</text>
<text x="585" y="548" font-size="14.5" font-weight="bold" fill="#111" text-anchor="middle">Histone</text>

<!-- scatter b -->
<text x="686" y="442" font-size="17" font-weight="bold" fill="#111">b</text>
<line x1="777" y1="440" x2="777" y2="553" stroke="#999" stroke-width="0.6" stroke-dasharray="3,2"/>
<line x1="717" y1="496" x2="838" y2="496" stroke="#999" stroke-width="0.6" stroke-dasharray="3,2"/>
<g font-size="5" fill="#444" text-anchor="end">
<text x="714" y="444">1.0</text><text x="714" y="471">0.5</text><text x="714" y="498">0.0</text><text x="714" y="525">−0.5</text><text x="714" y="552">−1.0</text>
</g>
<g font-size="5" fill="#444" text-anchor="middle">
<text x="718" y="558">−1.0</text><text x="748" y="558">−0.5</text><text x="777" y="558">0.0</text><text x="807" y="558">0.5</text><text x="838" y="558">1.0</text>
</g>
<g fill="#5a6a88">
<rect x="758.5" y="519.5" width="3" height="3"/><rect x="766.5" y="524.5" width="3" height="3"/><rect x="770.5" y="531.5" width="3" height="3"/><rect x="778.5" y="520.5" width="3" height="3"/><rect x="783.5" y="528.5" width="3" height="3"/><rect x="788.5" y="536.5" width="3" height="3"/><rect x="761.5" y="538.5" width="3" height="3"/><rect x="774.5" y="513.5" width="3" height="3"/><rect x="793.5" y="517.5" width="3" height="3"/><rect x="755.5" y="527.5" width="3" height="3"/><rect x="743.5" y="528.5" width="3" height="3"/><rect x="798.5" y="530.5" width="3" height="3"/><rect x="821.5" y="537.5" width="3" height="3"/><rect x="790.5" y="474.5" width="3" height="3"/><rect x="728.5" y="498.5" width="3" height="3"/><rect x="803.5" y="518.5" width="3" height="3"/>
</g>
<g fill="#555" stroke="#333" stroke-width="0.3">
<rect x="747" y="500" width="4" height="4"/><rect x="806" y="484" width="4" height="4"/><rect x="820" y="517" width="4" height="4"/><rect x="756" y="535" width="4" height="4"/><rect x="768" y="543" width="4" height="4"/><rect x="834" y="530" width="4" height="4"/><rect x="726" y="493" width="4" height="4"/>
</g>
<g fill="#cf8a5a">
<path d="M772 443l2 4h-4z M792 439l2 4h-4z M807 464l2 4h-4z M760 508l2 4h-4z M775 525l2 4h-4z M783 533l2 4h-4z M770 530l2 4h-4z M788 523l2 4h-4z M765 523l2 4h-4z M778 538l2 4h-4z M795 543l2 4h-4z M735 520l2 4h-4z M797 503l2 4h-4z M765 546l2 4h-4z M785 513l2 4h-4z M760 528l2 4h-4z M770 516l2 4h-4z M800 525l2 4h-4z M782 545l2 4h-4z M787 468l2 4h-4z M779 530l2 4h-4z M774 535l2 4h-4z M768 527l2 4h-4z M790 530l2 4h-4z"/>
</g>
<g fill="#7a7a7a">
<path d="M745 450l2 2-2 2-2-2z M770 453l2 2-2 2-2-2z M780 488l2 2-2 2-2-2z M758 495l2 2-2 2-2-2z M812 508l2 2-2 2-2-2z M820 526l2 2-2 2-2-2z M829 523l2 2-2 2-2-2z M815 543l2 2-2 2-2-2z M802 496l2 2-2 2-2-2z M742 543l2 2-2 2-2-2z M797 487l2 2-2 2-2-2z M766 476l2 2-2 2-2-2z"/>
</g>
<g fill="none" stroke="#666" stroke-width="0.5">
<circle cx="775" cy="475" r="1.3"/><circle cx="790" cy="500" r="1.3"/><circle cx="810" cy="530" r="1.3"/><circle cx="818" cy="505" r="1.3"/><circle cx="752" cy="515" r="1.3"/><circle cx="795" cy="553" r="1.3"/><circle cx="738" cy="502" r="1.3"/><circle cx="827" cy="513" r="1.3"/>
</g>
<text transform="translate(704,492) rotate(-90)" font-size="13" font-weight="bold" fill="#111" text-anchor="middle">J411</text>
<text x="783" y="570" font-size="13" font-weight="bold" fill="#111" text-anchor="middle">KN9204</text>
<g font-size="8" font-weight="bold" fill="#222">
<rect x="731.5" y="580.5" width="5" height="5" fill="#5a6a88"/><text x="739" y="587">H1/H5</text>
<path d="M775 580l3 3-3 3-3-3z" fill="#777"/><text x="779" y="587">H2B</text>
<rect x="801" y="580.5" width="5" height="5" fill="none" stroke="#333" stroke-width="0.8"/><path d="M801 580.5l5 5M806 580.5l-5 5" stroke="#333" stroke-width="0.6"/><text x="809" y="587">H4</text>
<path d="M734 590l3 5h-6z" fill="#c98a5a"/><text x="740" y="596">H2A</text>
<circle cx="775" cy="593" r="1.8" fill="none" stroke="#444" stroke-width="0.7"/><text x="779" y="596">H3</text>
</g>

<!-- bar chart c -->
<text x="531" y="577" font-size="16" font-weight="bold" fill="#111">c</text>
<rect x="558" y="570" width="69" height="9" fill="#c8a98a"/>
<text x="592.5" y="577.5" font-size="8" font-style="italic" fill="#222" text-anchor="middle">CYCD4-2</text>
<line x1="557" y1="592" x2="557" y2="646" stroke="#444" stroke-width="0.6"/>
<g font-size="6" fill="#333" text-anchor="end"><text x="554" y="606">10</text><text x="554" y="626">5</text><text x="554" y="647">0</text></g>
<rect x="561" y="596" width="11" height="50" fill="#ef8a5e"/><rect x="577" y="596" width="11" height="50" fill="#ef8a5e"/>
<rect x="596" y="589" width="11" height="57" fill="#8ca58a"/><rect x="613" y="618" width="11" height="28" fill="#8ca58a"/>
<g stroke="#333" stroke-width="0.6"><line x1="564" y1="595.5" x2="569" y2="595.5"/><line x1="580" y1="595.5" x2="585" y2="595.5"/><line x1="599" y1="588" x2="604" y2="588"/><line x1="616" y1="615" x2="621" y2="615"/></g>
<text x="617" y="590" font-size="9" fill="#222" text-anchor="middle">***</text>
<text transform="translate(542,611) rotate(-90)" font-size="11" font-weight="bold" fill="#111" text-anchor="middle">FPKM</text>
<g font-size="6.5" font-weight="bold" fill="#222" text-anchor="middle"><text x="566" y="656">HN</text><text x="583" y="656">LN</text><text x="601" y="656">HN</text><text x="619" y="656">LN</text></g>

<g fill="url(#cycd)" stroke="#4aa070" stroke-width="0.5">
<ellipse cx="562" cy="692" rx="19" ry="15"/><ellipse cx="592" cy="694" rx="21" ry="13"/><ellipse cx="580" cy="681" rx="22" ry="13"/>
</g>
<text x="578" y="721" font-size="11" font-weight="bold" fill="#111" text-anchor="middle">CYCD</text>
<rect x="559" y="747" width="13" height="12" fill="#ef8a5e"/>
<text x="578" y="758" font-size="14" font-weight="bold" fill="#111">KN9204</text>
<rect x="559" y="770" width="13" height="12" fill="#8ca58a"/>
<text x="578" y="781" font-size="14" font-weight="bold" fill="#111">J411</text>

<!-- d -->
<text x="648" y="634" font-size="16" font-weight="bold" fill="#111">d</text>
<rect x="677" y="635" width="69" height="9" fill="#c8a98a"/>
<text x="711.5" y="642.5" font-size="8" font-style="italic" fill="#222" text-anchor="middle">CDKB1-1</text>
<line x1="674" y1="650" x2="674" y2="711" stroke="#444" stroke-width="0.6"/>
<g font-size="6" fill="#333" text-anchor="end"><text x="671" y="668">10</text><text x="671" y="690">5</text><text x="671" y="712">0</text></g>
<rect x="678" y="653" width="10.5" height="58" fill="#ef8a5e"/><rect x="696" y="653" width="10.5" height="58" fill="#ef8a5e"/>
<rect x="713" y="664" width="10.5" height="47" fill="#8ca58a"/><rect x="731" y="669" width="10.5" height="42" fill="#8ca58a"/>
<text x="734" y="660" font-size="9" fill="#222" text-anchor="middle">***</text>
<text transform="translate(659,674) rotate(-90)" font-size="11" font-weight="bold" fill="#111" text-anchor="middle">FPKM</text>

<!-- e -->
<text x="757" y="634" font-size="16" font-weight="bold" fill="#111">e</text>
<rect x="772" y="635" width="69" height="9" fill="#c8a98a"/>
<text x="806.5" y="642.5" font-size="8" font-style="italic" fill="#222" text-anchor="middle">CDKB2-1</text>
<line x1="769" y1="650" x2="769" y2="712" stroke="#444" stroke-width="0.6"/>
<g font-size="5.5" fill="#333" text-anchor="end"><text x="767" y="661">50</text><text x="767" y="671">40</text><text x="767" y="682">30</text><text x="767" y="692">20</text><text x="767" y="703">10</text><text x="767" y="713">0</text></g>
<rect x="772" y="652" width="10.5" height="60" fill="#ef8a5e"/><rect x="790" y="659" width="10.5" height="53" fill="#ef8a5e"/>
<rect x="806" y="665" width="10.5" height="47" fill="#8ca58a"/><rect x="824" y="676" width="10.5" height="36" fill="#8ca58a"/>
<text x="786" y="651" font-size="9" fill="#222" text-anchor="middle">*</text>
<text x="825" y="664" font-size="9" fill="#222" text-anchor="middle">***</text>
<g font-size="6.5" font-weight="bold" fill="#222" text-anchor="middle"><text x="777" y="720">HN</text><text x="795" y="720">LN</text><text x="811" y="720">HN</text><text x="829" y="720">LN</text></g>

<!-- f -->
<text x="649" y="736" font-size="16" font-weight="bold" fill="#111">f</text>
<rect x="678" y="731" width="70" height="9" fill="#c8a98a"/>
<text x="713" y="738.5" font-size="8" font-style="italic" fill="#222" text-anchor="middle">CYCB2-3</text>
<line x1="674" y1="742" x2="674" y2="807" stroke="#444" stroke-width="0.6"/>
<g font-size="6" fill="#333" text-anchor="end"><text x="671" y="747">30</text><text x="671" y="768">20</text><text x="671" y="788">10</text><text x="671" y="808">0</text></g>
<rect x="679" y="749" width="10.5" height="58" fill="#ef8a5e"/><rect x="697" y="746" width="10.5" height="61" fill="#ef8a5e"/>
<rect x="714" y="757" width="10.5" height="50" fill="#8ca58a"/><rect x="732" y="772" width="10.5" height="35" fill="#8ca58a"/>
<text x="733" y="755" font-size="9" fill="#222" text-anchor="middle">***</text>
<text transform="translate(659,768) rotate(-90)" font-size="11" font-weight="bold" fill="#111" text-anchor="middle">FPKM</text>
<g font-size="6.5" font-weight="bold" fill="#222" text-anchor="middle"><text x="684" y="815">HN</text><text x="702" y="815">LN</text><text x="719" y="815">HN</text><text x="737" y="815">LN</text></g>

<g stroke="#c0603f" stroke-width="0.5" fill="url(#cdkb)"><ellipse cx="796" cy="776" rx="16" ry="11"/><ellipse cx="783" cy="786" rx="17" ry="11"/></g>
<g fill="url(#cycb)"><circle cx="830" cy="757" r="17"/><circle cx="820" cy="771" r="17"/></g>
<text x="839" y="798" font-size="11" font-weight="bold" fill="#111" text-anchor="middle">CYCB</text>
<text x="790" y="814" font-size="11" font-weight="bold" fill="#111" text-anchor="middle">CDKB</text>

<!-- ================= PANEL C ================= -->
<text x="6" y="625" font-size="25" font-weight="bold" fill="#111">C</text>
<use href="#net"/>
<use href="#net" transform="translate(280,4)"/>
<use href="#net" transform="translate(0,143)"/>
<use href="#net" transform="translate(282,141)" opacity="0.75"/>
<g font-size="4.2" font-weight="bold" fill="#333" text-anchor="middle">
<text x="125" y="628">Trihelix</text><text x="162" y="629">HSF</text><text x="89" y="631">GeBP</text><text x="52" y="646">CRS1</text><text x="88" y="648">MIKC_MADS</text><text x="132" y="648">ERF3</text><text x="190" y="647">ARF</text><text x="30" y="662">CYCD3-1</text><text x="55" y="665">WRKY</text><text x="112" y="668">H2A</text><text x="140" y="670">H4</text><text x="166" y="664">DEL1</text><text x="198" y="665">NF-YB</text><text x="83" y="674">bHLH</text><text x="106" y="674">H3</text><text x="124" y="675">CYCB1-1</text><text x="18" y="676">GRF</text><text x="87" y="682">H1/H5</text><text x="133" y="686">MYB</text><text x="148" y="685">H2B</text><text x="178" y="685">E2F</text><text x="203" y="685">ARF_like</text><text x="40" y="688">CYCA3-1</text><text x="63" y="688">CYCD2-3</text><text x="17" y="697">CDKB1-1</text><text x="98" y="692">CYCA2-1</text><text x="123" y="692">HD-ZIP</text><text x="82" y="702">CDKB2-1</text><text x="143" y="704">ARR</text><text x="170" y="706">CYCA1-1</text><text x="197" y="701">ZF-HD</text><text x="35" y="709">AP2</text><text x="57" y="703">GRAS</text><text x="110" y="707">TCP</text><text x="128" y="715">B3</text><text x="177" y="716">Dof</text><text x="67" y="717">ARR-B</text><text x="97" y="716">E2Fb</text><text x="87" y="727">C3H</text><text x="152" y="726">FAR1</text><text x="119" y="733">CYCD4-2</text>
</g>
<g font-size="4.2" font-weight="bold" fill="#333" text-anchor="middle" transform="translate(280,4)">
<text x="125" y="628">Trihelix</text><text x="162" y="629">HSF</text><text x="89" y="631">GeBP</text><text x="52" y="646">CRS1</text><text x="88" y="648">MIKC_MADS</text><text x="132" y="648">ERF3</text><text x="190" y="647">ARF</text><text x="30" y="662">CYCD3-1</text><text x="55" y="665">WRKY</text><text x="112" y="668">H2A</text><text x="140" y="670">H4</text><text x="166" y="664">DEL1</text><text x="198" y="665">NF-YB</text><text x="83" y="674">bHLH</text><text x="106" y="674">H3</text><text x="124" y="675">CYCB1-1</text><text x="18" y="676">GRF</text><text x="87" y="682">H1/H5</text><text x="133" y="686">MYB</text><text x="148" y="685">H2B</text><text x="178" y="685">E2F</text><text x="203" y="685">ARF_like</text><text x="40" y="688">CYCA3-1</text><text x="63" y="688">CYCD2-3</text><text x="17" y="697">CDKB1-1</text><text x="98" y="692">CYCA2-1</text><text x="123" y="692">HD-ZIP</text><text x="82" y="702">CDKB2-1</text><text x="143" y="704">ARR</text><text x="170" y="706">CYCA1-1</text><text x="197" y="701">ZF-HD</text><text x="35" y="709">AP2</text><text x="57" y="703">GRAS</text><text x="110" y="707">TCP</text><text x="128" y="715">B3</text><text x="177" y="716">Dof</text><text x="67" y="717">ARR-B</text><text x="97" y="716">E2Fb</text><text x="87" y="727">C3H</text><text x="152" y="726">FAR1</text><text x="119" y="733">CYCD4-2</text>
</g>
<g font-size="4.2" font-weight="bold" fill="#333" text-anchor="middle" transform="translate(0,143)">
<text x="125" y="628">Trihelix</text><text x="162" y="629">HSF</text><text x="89" y="631">GeBP</text><text x="52" y="646">CRS1</text><text x="88" y="648">MIKC_MADS</text><text x="132" y="648">ERF3</text><text x="190" y="647">ARF</text><text x="30" y="662">CYCD3-1</text><text x="55" y="665">WRKY</text><text x="112" y="668">H2A</text><text x="140" y="670">H4</text><text x="166" y="664">DEL1</text><text x="198" y="665">NF-YB</text><text x="83" y="674">bHLH</text><text x="106" y="674">H3</text><text x="124" y="675">CYCB1-1</text><text x="18" y="676">GRF</text><text x="87" y="682">H1/H5</text><text x="133" y="686">MYB</text><text x="148" y="685">H2B</text><text x="178" y="685">E2F</text><text x="203" y="685">ARF_like</text><text x="40" y="688">CYCA3-1</text><text x="63" y="688">CYCD2-3</text><text x="17" y="697">CDKB1-1</text><text x="98" y="692">CYCA2-1</text><text x="123" y="692">HD-ZIP</text><text x="82" y="702">CDKB2-1</text><text x="143" y="704">ARR</text><text x="170" y="706">CYCA1-1</text><text x="197" y="701">ZF-HD</text><text x="35" y="709">AP2</text><text x="57" y="703">GRAS</text><text x="110" y="707">TCP</text><text x="128" y="715">B3</text><text x="177" y="716">Dof</text><text x="67" y="717">ARR-B</text><text x="97" y="716">E2Fb</text><text x="87" y="727">C3H</text><text x="152" y="726">FAR1</text><text x="119" y="733">CYCD4-2</text>
</g>
<g font-size="4.2" font-weight="bold" fill="#333" text-anchor="middle" transform="translate(282,141)">
<text x="125" y="628">Trihelix</text><text x="162" y="629">HSF</text><text x="89" y="631">GeBP</text><text x="52" y="646">CRS1</text><text x="88" y="648">MIKC_MADS</text><text x="132" y="648">ERF3</text><text x="190" y="647">ARF</text><text x="30" y="662">CYCD3-1</text><text x="55" y="665">WRKY</text><text x="112" y="668">H2A</text><text x="140" y="670">H4</text><text x="166" y="664">DEL1</text><text x="198" y="665">NF-YB</text><text x="83" y="674">bHLH</text><text x="106" y="674">H3</text><text x="124" y="675">CYCB1-1</text><text x="18" y="676">GRF</text><text x="87" y="682">H1/H5</text><text x="133" y="686">MYB</text><text x="148" y="685">H2B</text><text x="178" y="685">E2F</text><text x="203" y="685">ARF_like</text><text x="40" y="688">CYCA3-1</text><text x="63" y="688">CYCD2-3</text><text x="17" y="697">CDKB1-1</text><text x="98" y="692">CYCA2-1</text><text x="123" y="692">HD-ZIP</text><text x="82" y="702">CDKB2-1</text><text x="143" y="704">ARR</text><text x="170" y="706">CYCA1-1</text><text x="197" y="701">ZF-HD</text><text x="35" y="709">AP2</text><text x="57" y="703">GRAS</text><text x="110" y="707">TCP</text><text x="128" y="715">B3</text><text x="177" y="716">Dof</text><text x="67" y="717">ARR-B</text><text x="97" y="716">E2Fb</text><text x="87" y="727">C3H</text><text x="152" y="726">FAR1</text><text x="119" y="733">CYCD4-2</text>
</g>
<text x="113" y="757" font-size="13.5" font-weight="bold" fill="#111" text-anchor="middle">KN9204_HN</text>
<text x="399" y="752" font-size="13.5" font-weight="bold" fill="#111" text-anchor="middle">KN9204_LN</text>
<text x="113" y="892" font-size="13.5" font-weight="bold" fill="#111" text-anchor="middle">J411_HN</text>
<text x="400" y="890" font-size="13.5" font-weight="bold" fill="#111" text-anchor="middle">J411_LN</text>
<text x="250" y="678" font-size="16" font-weight="bold" fill="#b57c3c" text-anchor="middle">LN</text>
<line x1="232" y1="686" x2="268" y2="686" stroke="#222" stroke-width="1.6"/>
<polygon points="266,681.5 275,686 266,690.5" fill="#222"/>
<text x="252" y="819" font-size="16" font-weight="bold" fill="#b57c3c" text-anchor="middle">LN</text>
<line x1="234" y1="826" x2="268" y2="826" stroke="#222" stroke-width="1.6"/>
<polygon points="266,821.5 275,826 266,830.5" fill="#222"/>

<!-- ================= PANEL D ================= -->
<text x="6" y="953" font-size="25" font-weight="bold" fill="#111">D</text>
<rect x="410" y="947" width="103" height="21" fill="url(#leg)"/>
<g font-size="15" font-weight="bold" fill="#111" text-anchor="middle">
<text x="410" y="986">0.0</text><text x="436" y="986">0.5</text><text x="462" y="986">1.0</text><text x="488" y="986">1.5</text><text x="514" y="986">2.0</text>
</g>
<g fill="#cbcbcb" stroke="#9a9a9a" stroke-width="0.6">
<rect x="48" y="998" width="204" height="15"/><rect x="255" y="998" width="204" height="15"/><rect x="462" y="998" width="204" height="15"/><rect x="669" y="998" width="205" height="15"/>
<rect x="875" y="1013" width="15" height="96"/><rect x="875" y="1112" width="15" height="95"/>
</g>
<g font-size="11" font-weight="bold" fill="#222" text-anchor="middle">
<text x="150" y="1009.5">HN</text><text x="357" y="1009.5">LN</text><text x="564" y="1009.5">HN</text><text x="771.5" y="1009.5">LN</text>
<text transform="translate(879,1061) rotate(90)">J411</text>
<text transform="translate(879,1160) rotate(90)">KN9204</text>
</g>
<rect x="57" y="1018" width="185" height="29" fill="url(#p1a)"/>
<rect x="57" y="1047" width="185" height="28" fill="#fccdb3"/>
<rect x="57" y="1075" width="185" height="29" fill="url(#p1c)"/>
<rect x="264" y="1018" width="185" height="29" fill="url(#p2a)"/>
<rect x="264" y="1047" width="185" height="28" fill="#fccdb3"/>
<rect x="264" y="1075" width="185" height="29" fill="url(#p2c)"/>
<rect x="471" y="1018" width="187" height="29" fill="url(#p3a)"/>
<rect x="471" y="1047" width="187" height="28" fill="#fccdb3"/>
<rect x="471" y="1075" width="187" height="29" fill="url(#p3c)"/>
<rect x="679" y="1018" width="186" height="29" fill="url(#p4a)"/>
<rect x="679" y="1047" width="186" height="28" fill="#fccdb3"/>
<rect x="679" y="1075" width="186" height="29" fill="url(#p4c)"/>
<rect x="57" y="1116" width="185" height="29" fill="url(#p1d)"/>
<rect x="57" y="1145" width="185" height="29" fill="#fccdb3"/>
<rect x="57" y="1174" width="185" height="29" fill="url(#p1f)"/>
<rect x="264" y="1116" width="185" height="29" fill="url(#p2d)"/>
<rect x="264" y="1145" width="185" height="29" fill="#fccdb3"/>
<rect x="264" y="1174" width="185" height="29" fill="url(#p2f)"/>
<g>
<rect x="471" y="1116" width="187" height="29" fill="#eef7ec"/>
<rect x="471" y="1116" width="6" height="29" fill="#d4ecd0"/><rect x="483" y="1116" width="5" height="29" fill="#b5dcad"/><rect x="496" y="1116" width="6" height="29" fill="#fdf0e8"/><rect x="502" y="1116" width="5" height="29" fill="#f8cdb3"/><rect x="507" y="1116" width="8" height="29" fill="#fff"/><rect x="515" y="1116" width="6" height="29" fill="#d8eed3"/><rect x="527" y="1116" width="5" height="29" fill="#a7d59e"/><rect x="532" y="1116" width="6" height="29" fill="#fff"/><rect x="538" y="1116" width="5" height="29" fill="#cfe9c8"/><rect x="543" y="1116" width="6" height="29" fill="#7cc274"/><rect x="549" y="1116" width="5" height="29" fill="#fbe7da"/><rect x="554" y="1116" width="3" height="29" fill="#ed9060"/><rect x="557" y="1116" width="8" height="29" fill="#fff"/><rect x="565" y="1116" width="6" height="29" fill="#c3e3bc"/><rect x="571" y="1116" width="5" height="29" fill="#88c880"/><rect x="584" y="1116" width="6" height="29" fill="#d9eed4"/><rect x="590" y="1116" width="6" height="29" fill="#fbfdfa"/><rect x="596" y="1116" width="6" height="29" fill="#c8e6c1"/><rect x="609" y="1116" width="6" height="29" fill="#b3dbab"/><rect x="621" y="1116" width="6" height="29" fill="#a5d49c"/><rect x="627" y="1116" width="8" height="29" fill="#dff0da"/><rect x="635" y="1116" width="6" height="29" fill="#bfe1b7"/><rect x="649" y="1116" width="6" height="29" fill="#9ad192"/>
</g>
<rect x="471" y="1145" width="187" height="29" fill="#fccdb3"/>
<g>
<rect x="471" y="1174" width="187" height="29" fill="#f2f9f0"/>
<rect x="471" y="1174" width="6" height="29" fill="#e2f1de"/><rect x="477" y="1174" width="6" height="29" fill="#c6e5bf"/><rect x="483" y="1174" width="8" height="29" fill="#fff"/><rect x="491" y="1174" width="6" height="29" fill="#d2eacb"/><rect x="503" y="1174" width="5" height="29" fill="#b8ddb0"/><rect x="516" y="1174" width="6" height="29" fill="#f9fcf8"/><rect x="522" y="1174" width="6" height="29" fill="#cde8c6"/><rect x="528" y="1174" width="8" height="29" fill="#fff"/><rect x="542" y="1174" width="6" height="29" fill="#bfe1b7"/><rect x="556" y="1174" width="6" height="29" fill="#d9eed4"/><rect x="562" y="1174" width="6" height="29" fill="#fff"/><rect x="580" y="1174" width="6" height="29" fill="#c2e3bb"/><rect x="592" y="1174" width="5" height="29" fill="#8fcb87"/><rect x="603" y="1174" width="6" height="29" fill="#fff"/><rect x="609" y="1174" width="6" height="29" fill="#cfe9c8"/><rect x="621" y="1174" width="5" height="29" fill="#86c77e"/><rect x="634" y="1174" width="6" height="29" fill="#fff"/><rect x="640" y="1174" width="6" height="29" fill="#c9e6c2"/><rect x="646" y="1174" width="6" height="29" fill="#9ccf94"/>
</g>
<rect x="679" y="1116" width="186" height="29" fill="url(#p4d)"/>
<rect x="679" y="1145" width="186" height="29" fill="#fccdb3"/>
<rect x="679" y="1174" width="186" height="29" fill="url(#p4f)"/>
<g fill="none" stroke="#222" stroke-width="1">
<rect x="48" y="1013" width="204" height="96"/><rect x="255" y="1013" width="204" height="96"/><rect x="462" y="1013" width="204" height="96"/><rect x="669" y="1013" width="205" height="96"/>
<rect x="48" y="1112" width="204" height="95"/><rect x="255" y="1112" width="204" height="95"/><rect x="462" y="1112" width="204" height="95"/><rect x="669" y="1112" width="205" height="95"/>
</g>
<g font-size="11" font-weight="bold" fill="#111" text-anchor="end">
<text x="44" y="1037">14 DAA</text><text x="44" y="1066">21 DAA</text><text x="44" y="1095">28 DAA</text>
<text x="44" y="1135">14 DAA</text><text x="44" y="1164">21 DAA</text><text x="44" y="1193">28 DAA</text>
</g>
<g font-size="12" font-weight="bold" fill="#111" text-anchor="middle">
<text x="147" y="1226">KN9204-HN-specific 231 genes</text>
<text x="358" y="1226">KN9204-LN-specific 213 genes</text>
<text x="563" y="1226">J411-HN-specific 33 genes</text>
<text x="770" y="1226">J411-LN-specific 334 genes</text>
</g>
</svg>
</body></html>
